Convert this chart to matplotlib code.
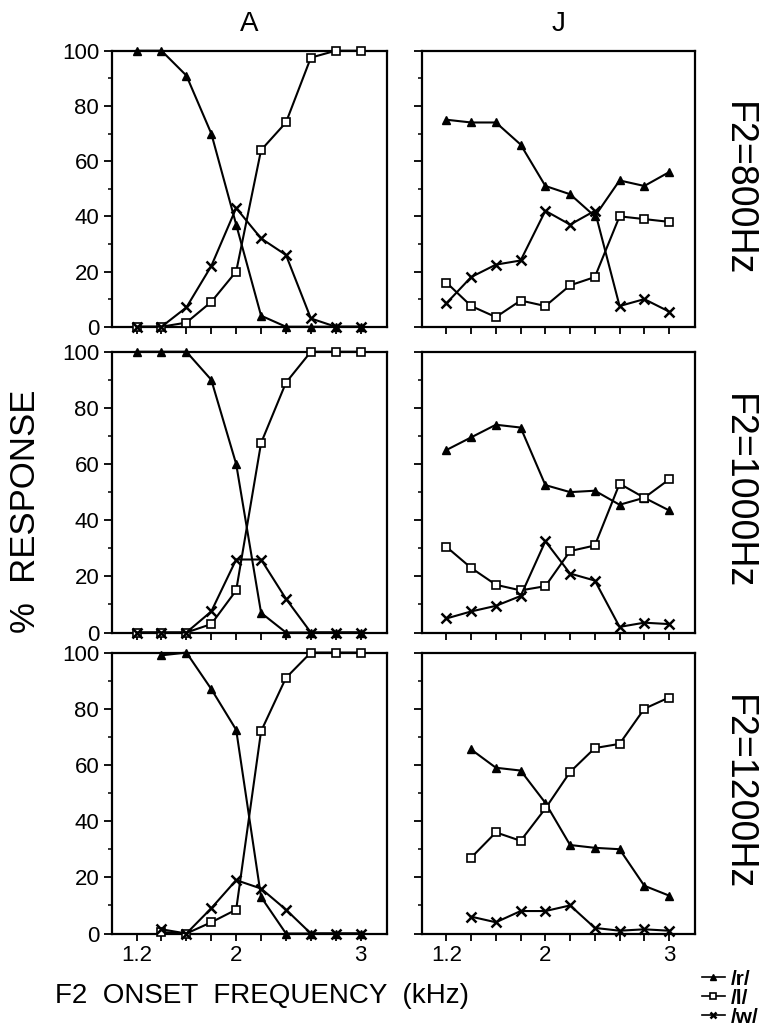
import numpy as np
import matplotlib
matplotlib.use("Agg")
import matplotlib.pyplot as plt
from matplotlib.lines import Line2D
from matplotlib.ticker import MultipleLocator

plt.rcParams["font.family"] = ["Liberation Sans", "DejaVu Sans"]

# onset frequency (kHz)
freq = [1.2, 1.4, 1.6, 1.8, 2.0, 2.2, 2.4, 2.6, 2.8, 3.0]
nan = np.nan

# listener A
a800_r = [100, 100, 91, 70, 37, 4, 0, 0, 0, 0]
a800_l = [0, 0, 1.5, 9, 20, 64, 74, 97.5, 100, 100]
a800_w = [0, 0, 7, 22, 43, 32, 26, 3, 0, 0]

a1000_r = [100, 100, 100, 90, 60, 7, 0, 0, 0, 0]
a1000_l = [0, 0, 0, 3, 15, 67.5, 89, 100, 100, 100]
a1000_w = [0, 0, 0, 7.5, 26, 26, 12, 0, 0, 0]

a1200_r = [nan, 99, 100, 87, 72.5, 13, 0, 0, 0, 0]
a1200_l = [nan, 0.5, 0, 4, 8.5, 72, 91, 100, 100, 100]
a1200_w = [nan, 1.5, 0, 9, 19, 16, 8.5, 0, 0, 0]

# listener J
j800_r = [75, 74, 74, 66, 51, 48, 40, 53, 51, 56]
j800_l = [16, 7.5, 3.5, 9.5, 7.5, 15, 18, 40, 39, 38]
j800_w = [8.5, 18, 22.5, 24, 42, 37, 42, 7.5, 10, 5.5]

j1000_r = [65, 69.5, 74, 73, 52.5, 50, 50.5, 45.5, 48, 43.5]
j1000_l = [30.5, 23, 17, 15, 16.5, 29, 31, 53, 48, 54.5]
j1000_w = [5, 7.5, 9.5, 13, 32.5, 21, 18.5, 2, 3.5, 3]

j1200_r = [nan, 65.5, 59, 58, 46.5, 31.5, 30.5, 30, 17, 13.5]
j1200_l = [nan, 27, 36, 33, 44.5, 57.5, 66, 67.5, 80, 84]
j1200_w = [nan, 6, 4, 8, 8, 10, 2, 1, 1.5, 1]

rows = [
    ("F2=800Hz", (a800_r, a800_l, a800_w), (j800_r, j800_l, j800_w)),
    ("F2=1000Hz", (a1000_r, a1000_l, a1000_w), (j1000_r, j1000_l, j1000_w)),
    ("F2=1200Hz", (a1200_r, a1200_l, a1200_w), (j1200_r, j1200_l, j1200_w)),
]
xtick_labels = {1.2: "1.2", 2.0: "2", 3.0: "3"}

styles = [
    dict(marker="^", markersize=6, markerfacecolor="black"),
    dict(marker="s", markersize=5.5, markerfacecolor="white", markeredgewidth=1.2),
    dict(marker="x", markersize=7, markeredgewidth=1.8),
]

fig = plt.figure(figsize=(7.62, 10.33), dpi=100)

col_left = [0.1466, 0.5534]
col_width = [0.361, 0.3587]
row_bottom = [0.6837, 0.3877, 0.0963]
row_height = [0.2672, 0.2718, 0.272]

for r, (row_label, a_data, j_data) in enumerate(rows):
    for c, data in enumerate((a_data, j_data)):
        ax = fig.add_axes([col_left[c], row_bottom[r], col_width[c], row_height[r]])
        for series, st in zip(data, styles):
            ax.plot(freq, series, color="black", linewidth=1.5,
                    markeredgecolor="black", clip_on=False, zorder=3, **st)
        ax.set_xlim(1.0, 3.21)
        ax.set_ylim(0, 100)
        ax.set_xticks(freq)
        if r == 2:
            ax.set_xticklabels([xtick_labels.get(round(f, 1), "") for f in freq])
        else:
            ax.set_xticklabels([])
        ax.yaxis.set_major_locator(MultipleLocator(20))
        ax.yaxis.set_minor_locator(MultipleLocator(10))
        if c == 1:
            ax.set_yticklabels([])
        ax.tick_params(axis="both", which="major", direction="out", length=6,
                       width=1.3, labelsize=16, pad=3)
        ax.tick_params(axis="y", which="minor", direction="out", length=3, width=1.1)
        ax.tick_params(axis="x", which="major", length=5)
        for s in ax.spines.values():
            s.set_linewidth(1.6)
        if r == 0:
            ax.set_title("A" if c == 0 else "J", fontsize=20, pad=14)
        if c == 1:
            ax.text(1.155, 0.5, row_label, transform=ax.transAxes, rotation=-90,
                    ha="center", va="center", fontsize=27)

fig.text(0.034, 0.505, "%  RESPONSE", rotation=90, ha="center", va="center",
         fontsize=25)
fig.text(0.344, 0.036, "F2  ONSET  FREQUENCY  (kHz)", ha="center", va="center",
         fontsize=20)

handles = [Line2D([], [], color="black", linewidth=1.2, markeredgecolor="black",
                  **dict(st, markersize=4)) for st in styles]
fig.legend(handles, ["/r/", "/l/", "/w/"], loc="lower right",
           bbox_to_anchor=(1.012, -0.006), frameon=False,
           prop={"size": 15, "weight": "bold"},
           handlelength=1.1, handletextpad=0.3, labelspacing=0.0,
           borderaxespad=0.2)

fig.savefig("out.png", dpi=100)
